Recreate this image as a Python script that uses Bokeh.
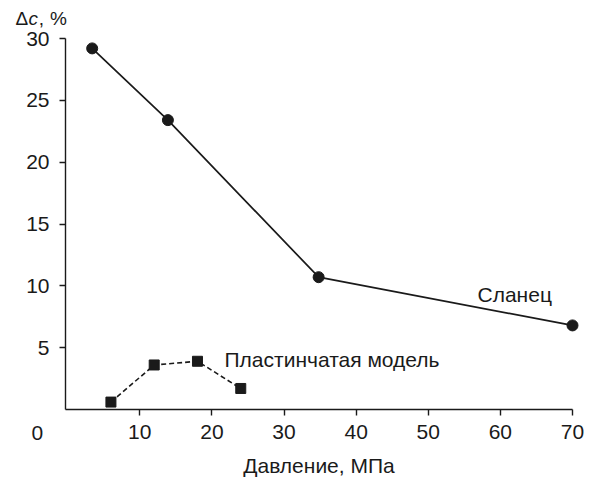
from bokeh.plotting import figure
from bokeh.models import Range1d, FixedTicker, Label
from bokeh.embed import file_html
from bokeh.resources import INLINE

# data
slate_x = [3.4, 13.9, 34.8, 70.0]
slate_y = [29.2, 23.4, 10.7, 6.8]
plate_x = [6.0, 12.0, 18.0, 24.0]
plate_y = [0.6, 3.6, 3.9, 1.7]
x_ticks = [10, 20, 30, 40, 50, 60, 70]
y_ticks = [5, 10, 15, 20, 25, 30]
slate_name = "Сланец"
plate_name = "Пластинчатая модель"
x_title = "Давление, МПа"

FONT = "Liberation Sans"
FS = "21px"
INK = "#1a1a1a"

p = figure(width=590, height=479, output_backend="svg", toolbar_location=None,
           x_range=Range1d(-9.313, 72.496), y_range=Range1d(-5.66, 33.073),
           min_border_left=0, min_border_right=0, min_border_top=0,
           min_border_bottom=0)
p.outline_line_color = None
p.grid.visible = False
p.background_fill_color = "white"
p.border_fill_color = "white"

for ax in (p.xaxis[0], p.yaxis[0]):
    ax.axis_line_color = INK
    ax.axis_line_width = 1.4
    ax.major_tick_line_color = INK
    ax.major_tick_line_width = 1.4
    ax.major_tick_out = 6
    ax.major_tick_in = 0
    ax.minor_tick_line_color = None
    ax.major_label_text_font = FONT
    ax.major_label_text_font_size = FS
    ax.major_label_text_color = INK

p.xaxis[0].ticker = FixedTicker(ticks=x_ticks)
p.yaxis[0].ticker = FixedTicker(ticks=y_ticks)
p.xaxis[0].bounds = (-0.3, 70)
p.yaxis[0].bounds = (0, 30)
p.xaxis[0].fixed_location = 0
p.yaxis[0].fixed_location = -0.3
p.xaxis[0].major_label_standoff = 9
p.yaxis[0].major_label_standoff = 10

p.line(slate_x, slate_y, line_color=INK, line_width=1.7)
p.scatter(slate_x, slate_y, marker="circle", size=11, fill_color=INK, line_color=INK)
p.line(plate_x, plate_y, line_color=INK, line_width=1.6, line_dash="5 3")
p.scatter(plate_x, plate_y, marker="square", size=10, fill_color=INK, line_color=INK)

def lab(x, y, t, align="left", style="normal", size=FS):
    p.add_layout(Label(x=x, y=y, text=t, text_font=FONT, text_font_size=size,
                       text_color=INK, text_align=align, text_baseline="middle",
                       text_font_style=style))

lab(56.83, 9.30, slate_name)
lab(21.75, 4.03, plate_name)
lab(34.85, -4.55, x_title, align="center")
lab(-4.22, -1.9, "0", align="center")
TS = "19px"
lab(-7.23, 31.62, "Δ", size=TS)
lab(-5.43, 31.62, "c", style="italic", size=TS)
lab(-4.0, 31.62, ",", size=TS)
lab(-2.45, 31.62, "%", size=TS)

open("out.html", "w").write(file_html(p, INLINE))
